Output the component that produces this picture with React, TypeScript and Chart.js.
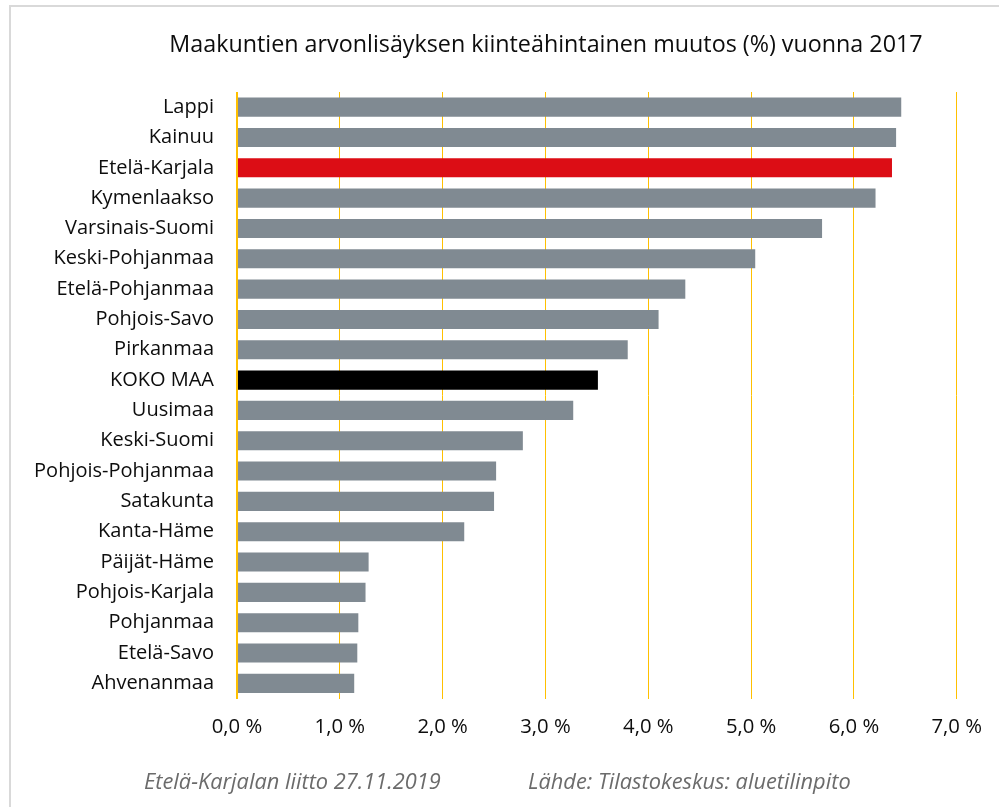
import React, { useEffect, useRef } from "react";
import { Chart, registerables } from "chart.js";

Chart.register(...registerables);

const categories = [
  "Lappi",
  "Kainuu",
  "Etelä-Karjala",
  "Kymenlaakso",
  "Varsinais-Suomi",
  "Keski-Pohjanmaa",
  "Etelä-Pohjanmaa",
  "Pohjois-Savo",
  "Pirkanmaa",
  "KOKO MAA",
  "Uusimaa",
  "Keski-Suomi",
  "Pohjois-Pohjanmaa",
  "Satakunta",
  "Kanta-Häme",
  "Päijät-Häme",
  "Pohjois-Karjala",
  "Pohjanmaa",
  "Etelä-Savo",
  "Ahvenanmaa",
];

const values = [
  6.46, 6.41, 6.37, 6.21, 5.69, 5.04, 4.36, 4.1, 3.8, 3.51, 3.27, 2.78, 2.52,
  2.5, 2.21, 1.28, 1.25, 1.18, 1.17, 1.14,
];

const xTickValues = [0, 1, 2, 3, 4, 5, 6, 7];

const titleText =
  "Maakuntien arvonlisäyksen kiinteähintainen muutos (%) vuonna 2017";
const footerLeft = "Etelä-Karjalan liitto 27.11.2019";
const footerRight = "Lähde: Tilastokeskus: aluetilinpito";

const highlightRed = "Etelä-Karjala";
const highlightBlack = "KOKO MAA";

const GRAY = "#808A92";
const RED = "#DC0D15";
const BLACK = "#000000";
const GOLD = "#FFC000";
const FONT = "'Open Sans', sans-serif";

const decorPlugin = {
  id: "decor",
  beforeDraw(chart: any) {
    const ctx = chart.ctx;
    ctx.save();
    ctx.fillStyle = "#fff";
    ctx.fillRect(0, 0, chart.width, chart.height);
    ctx.fillStyle = "#D9D9D9";
    ctx.fillRect(9, 5, 2, chart.height - 5);
    ctx.fillRect(9, 5, chart.width - 9, 2);
    ctx.restore();
  },
  afterDraw(chart: any) {
    const ctx = chart.ctx;
    ctx.save();
    ctx.textBaseline = "alphabetic";
    ctx.textAlign = "center";
    ctx.fillStyle = "#0d0d0d";
    ctx.font = `23.3px ${FONT}`;
    ctx.fillText(titleText, 546, 52);
    ctx.font = `italic 21.8px ${FONT}`;
    ctx.fillStyle = "#6b6b6b";
    ctx.textAlign = "left";
    ctx.fillText(footerLeft, 144, 789);
    ctx.fillText(footerRight, 528, 789);
    ctx.restore();
  },
};

export default function App() {
  const ref = useRef<HTMLCanvasElement | null>(null);

  useEffect(() => {
    if (!ref.current) return;
    const chart = new Chart(ref.current, {
      type: "bar",
      data: {
        labels: categories,
        datasets: [
          {
            data: values,
            backgroundColor: categories.map((c) =>
              c === highlightRed ? RED : c === highlightBlack ? BLACK : GRAY
            ),
            barPercentage: 0.63,
            categoryPercentage: 1,
          },
        ],
      },
      options: {
        indexAxis: "y",
        responsive: false,
        animation: false,
        layout: { padding: { top: 92, right: 41, left: 0, bottom: 0 } },
        plugins: {
          legend: { display: false },
          title: { display: false },
          tooltip: { enabled: false },
        },
        scales: {
          x: {
            type: "linear",
            min: 0,
            max: 7,
            afterFit(scale: any) {
              scale.height = 108.5;
            },
            afterBuildTicks(scale: any) {
              scale.ticks = xTickValues.map((v) => ({ value: v }));
            },
            grid: {
              color: () => GOLD,
              lineWidth: (c: any) => (c.index === 0 ? 2 : 1),
              drawTicks: false,
            },
            border: { display: false },
            ticks: {
              padding: 17,
              color: "#0d0d0d",
              font: { family: FONT, size: 20.3 },
              callback: (v: any) => Number(v).toFixed(1).replace(".", ",") + " %",
            },
          },
          y: {
            afterFit(scale: any) {
              scale.width = 237;
            },
            grid: { display: false, drawTicks: false },
            border: { display: false },
            ticks: {
              padding: 23,
              color: "#0d0d0d",
              font: { family: FONT, size: 20 },
              autoSkip: false,
            },
          },
        },
      },
      plugins: [decorPlugin],
    });
    return () => chart.destroy();
  }, []);

  return (
    <div style={{ position: "absolute", left: 0, top: 0, width: 999, height: 807 }}>
      <canvas ref={ref} width={999} height={807} />
    </div>
  );
}
